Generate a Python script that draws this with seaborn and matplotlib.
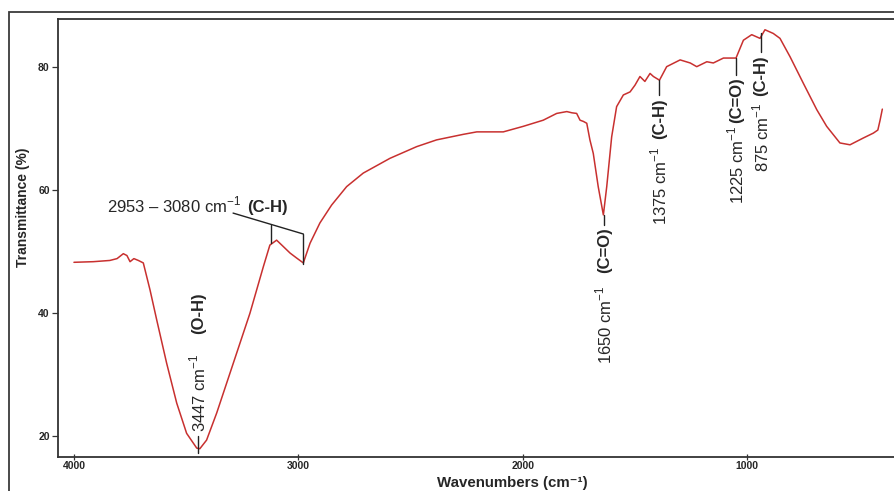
import pandas as pd
import matplotlib.pyplot as plt
import seaborn as sns
from matplotlib.patches import Rectangle

# FTIR spectrum (wavenumber in cm-1, transmittance in %)
wavenumber = [4000, 3914, 3840, 3808, 3780, 3764, 3750, 3733, 3713, 3691,
              3661, 3631, 3587, 3542, 3498, 3453, 3439, 3409, 3364, 3290,
              3216, 3156, 3127, 3097, 3074, 3037, 3008, 2978, 2948, 2904,
              2852, 2785, 2711, 2592, 2473, 2384, 2265, 2205, 2087, 1998,
              1909, 1849, 1804, 1781, 1760, 1745, 1730, 1715, 1701, 1686,
              1664, 1641, 1626, 1604, 1582, 1552, 1522, 1500, 1478, 1456,
              1433, 1418, 1391, 1359, 1299, 1254, 1225, 1180, 1151, 1106,
              1050, 1017, 980, 943, 921, 884, 854, 809, 750, 690,
              646, 587, 542, 483, 438, 418, 408, 398]
transmittance = [48.2, 48.3, 48.5, 48.8, 49.6, 49.3, 48.3, 48.8, 48.5, 48.1,
                 43.7, 38.8, 31.8, 25.3, 20.4, 18.0, 17.9, 19.3, 23.7, 31.8,
                 39.9, 47.5, 51.0, 51.8, 51.0, 49.7, 48.9, 48.1, 51.3, 54.6,
                 57.5, 60.5, 62.7, 65.1, 67.0, 68.1, 69.0, 69.4, 69.4, 70.3,
                 71.3, 72.4, 72.7, 72.5, 72.4, 71.3, 71.1, 70.8, 68.1, 65.9,
                 60.5, 55.9, 60.5, 68.6, 73.5, 75.4, 75.9, 77.0, 78.4, 77.6,
                 78.9, 78.4, 77.8, 80.0, 81.1, 80.6, 80.0, 80.8, 80.6, 81.4,
                 81.4, 84.3, 85.2, 84.6, 86.0, 85.4, 84.6, 81.6, 77.3, 73.0,
                 70.3, 67.6, 67.3, 68.4, 69.2, 69.7, 71.3, 73.1]

# band labels: number part, bold group part
band_numbers = ["3447 cm$^{-1}$", "1650 cm$^{-1}$", "1375 cm$^{-1}$",
                "1225 cm$^{-1}$", "875 cm$^{-1}$"]
band_groups = ["(O-H)", "(C=O)", "(C-H)", "(C=O)", "(C-H)"]

sns.set_style("white")
plt.rcParams['font.family'] = ['Liberation Sans', 'DejaVu Sans']
plt.rcParams['mathtext.fontset'] = 'custom'
plt.rcParams['mathtext.rm'] = 'Liberation Sans'
plt.rcParams['mathtext.bf'] = 'Liberation Sans:bold'

df = pd.DataFrame({'wn': wavenumber, 'T': transmittance})

fig = plt.figure(figsize=(8.94, 4.91), dpi=100)
ax = fig.add_axes([0.0649, 0.0686, 0.9351, 0.8921])

# outer frame round the whole figure (cut off at right and bottom)
fig.patches.append(Rectangle((9 / 894, -0.2), 1.5, 1.2 - 11.7 / 491,
                             transform=fig.transFigure, fill=False,
                             edgecolor='#3a3a3a', linewidth=1.3, clip_on=False))

sns.lineplot(data=df, x='wn', y='T', ax=ax, color='#c8302f', linewidth=1.1,
             estimator=None, sort=False)

ax.set_xlim(4071, 346)
ax.set_ylim(16.5, 87.7)
ax.set_xticks([4000, 3000, 2000, 1000])
ax.set_yticks([20, 40, 60, 80])
ax.tick_params(axis='both', labelsize=7.5, color='#333333', width=0.9,
               left=True, bottom=True)
ax.tick_params(axis='y', direction='out', length=4.5, pad=1.5)
ax.tick_params(axis='x', direction='inout', length=5, pad=0.3)
for lab in ax.get_xticklabels() + ax.get_yticklabels():
    lab.set_fontweight('bold')

for side in ['left', 'bottom', 'top']:
    ax.spines[side].set_color('#333333')
    ax.spines[side].set_linewidth(1.3)
ax.spines['right'].set_visible(False)

ax.set_xlabel("")
ax.set_ylabel("")
fig.text(512 / 894, 1 - 486.5 / 491, "Wavenumbers (cm\u207b\u00b9)",
         fontsize=10.8, fontweight='bold', ha='center', va='baseline')
fig.text(23 / 894, 1 - 207 / 491, "Transmittance (%)", fontsize=10,
         fontweight='bold', rotation=90, ha='center', va='center')

txt_kw = dict(fontsize=12, rotation=90, ha='center')

# 3447 (label above the tick)
ax.plot([3446, 3446], [19.9, 17.2], color='#222222', lw=1)
ax.text(3446, 20.6, band_numbers[0], va='bottom', **txt_kw)
ax.text(3446, 36.6, band_groups[0], va='bottom', fontweight='bold', **txt_kw)

# bands labelled below their ticks
tick_x = [1636, 1391, 1049, 939]
tick_top = [55.9, 77.8, 81.4, 85.5]
tick_bot = [54.3, 75.4, 78.6, 82.4]
group_top = [53.9, 74.9, 78.2, 81.9]
number_top = [44.5, 67.1, 70.5, 74.1]
for i in range(4):
    ax.plot([tick_x[i], tick_x[i]], [tick_top[i], tick_bot[i]], color='#222222', lw=1)
    ax.text(tick_x[i], group_top[i], band_groups[i + 1], va='top',
            fontweight='bold', **txt_kw)
    ax.text(tick_x[i], number_top[i], band_numbers[i + 1], va='top', **txt_kw)

# 2953 - 3080 bracket
ax.plot([3291, 2978], [56.2, 52.8], color='#222222', lw=1)
ax.plot([3122, 3122], [54.3, 51.4], color='#222222', lw=1)
ax.plot([2978, 2978], [52.8, 47.9], color='#222222', lw=1)
ax.text(3853, 56.3, "2953 \u2013 3080 cm$^{-1}$", fontsize=12, ha='left', va='baseline')
ax.text(3228, 56.3, "(C-H)", fontsize=12, fontweight='bold', ha='left', va='baseline')

fig.savefig('out.png', dpi=100)
